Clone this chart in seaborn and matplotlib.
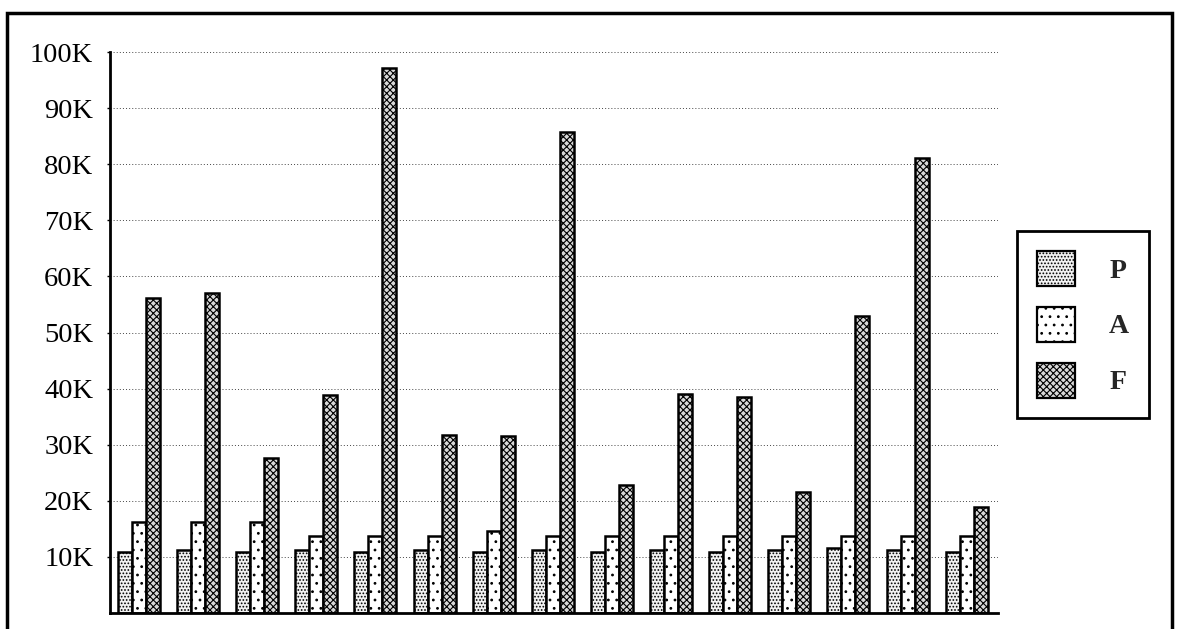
import matplotlib
matplotlib.use("Agg")
import matplotlib.pyplot as plt
from matplotlib.patches import Patch, Rectangle
from matplotlib.ticker import FuncFormatter
import numpy as np
import pandas as pd
import seaborn as sns

# Values in thousands for each of the fifteen groups
groups = [str(i) for i in range(1, 16)]
series = ["P", "A", "F"]
p_vals = [10.9, 11.2, 10.9, 11.2, 10.9, 11.2, 10.9, 11.2, 10.9, 11.2, 10.9, 11.2, 11.6, 11.2, 10.9]
a_vals = [16.2, 16.2, 16.2, 13.7, 13.7, 13.7, 14.6, 13.7, 13.7, 13.7, 13.7, 13.7, 13.7, 13.7, 13.7]
f_vals = [56.1, 57.0, 27.6, 38.9, 97.1, 31.7, 31.5, 85.7, 22.8, 39.0, 38.5, 21.6, 52.9, 81.1, 18.9]
y_ticks = [10, 20, 30, 40, 50, 60, 70, 80, 90, 100]

hatches = {"P": ".....", "A": "..", "F": "xxxxx"}
faces = {"P": "#f2f2f2", "A": "white", "F": "#d8d8d8"}

sns.set_theme(style="white")
plt.rcParams["font.family"] = ["Liberation Serif", "DejaVu Serif"]
plt.rcParams["hatch.linewidth"] = 0.8

df = pd.DataFrame({
    "group": groups * 3,
    "series": ["P"] * 15 + ["A"] * 15 + ["F"] * 15,
    "value": [v * 1000 for v in p_vals + a_vals + f_vals],
})

W, H = 1178, 629
fig = plt.figure(figsize=(W / 100, H / 100), dpi=100)
ax = fig.add_axes([110 / W, 1 - 613 / H, (998 - 110) / W, (613 - 52) / H])

sns.barplot(data=df, x="group", y="value", hue="series", hue_order=series,
            palette=[faces[s] for s in series], saturation=1, width=0.71,
            edgecolor="black", linewidth=1.8, ax=ax, legend=False)

for cont, name in zip(ax.containers, series):
    for bar in cont:
        bar.set_hatch(hatches[name])

ax.set_xlim(-0.49, 14.53)
ax.set_ylim(0, 100000)
ax.set_yticks([t * 1000 for t in y_ticks])
ax.yaxis.set_major_formatter(FuncFormatter(lambda v, _: f"{int(round(v / 1000))}K"))
ax.tick_params(axis="y", labelsize=20.5, length=2, width=1, pad=10.2, color="black",
               labelcolor="black", left=True)
ax.tick_params(axis="x", bottom=False, labelbottom=False)
ax.set_xlabel("")
ax.set_ylabel("")

ax.set_axisbelow(True)
ax.yaxis.grid(True, linestyle=(0, (1, 2.2)), color="#444444", linewidth=0.7)

for side in ["top", "right"]:
    ax.spines[side].set_visible(False)
for side in ["left", "bottom"]:
    ax.spines[side].set_visible(True)
    ax.spines[side].set_color("black")
    ax.spines[side].set_linewidth(2)

handles = [Patch(facecolor=faces[s], edgecolor="black", hatch=hatches[s], linewidth=1.6)
           for s in series]
leg = fig.legend(handles, series, loc="upper left",
                 bbox_to_anchor=(1017 / W, 1 - 231 / H), bbox_transform=fig.transFigure,
                 prop={"family": "Liberation Serif", "weight": "bold", "size": 20},
                 handlelength=1.35, handleheight=1.56, handletextpad=1.25,
                 labelspacing=0.75, borderpad=0.72, borderaxespad=0,
                 fancybox=False, framealpha=1)
leg.get_frame().set_edgecolor("black")
leg.get_frame().set_linewidth(2)

# Outer border around the whole chart
fig.patches.append(Rectangle((7 / W, -0.05), (1172 - 7) / W, 1 - 13 / H + 0.05,
                             transform=fig.transFigure, fill=False,
                             edgecolor="black", linewidth=2.5))

fig.savefig("out.png", dpi=100, facecolor="white")
